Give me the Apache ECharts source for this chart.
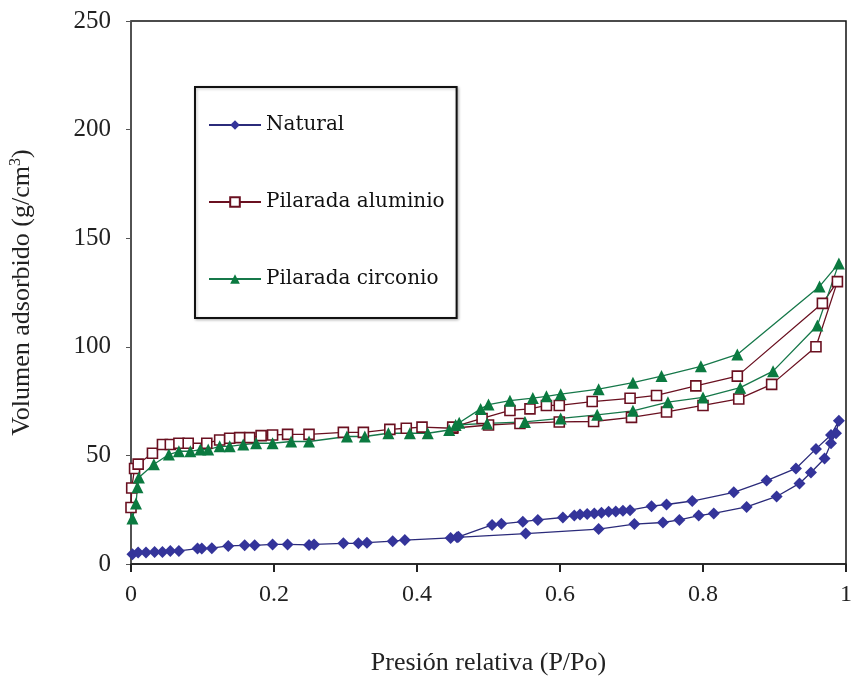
<!DOCTYPE html>
<html>
<head>
<meta charset="utf-8">
<script src="https://cdn.jsdelivr.net/npm/echarts@6/dist/echarts.min.js"></script>
<style>html,body{margin:0;padding:0;background:#fff}#c{width:855px;height:681px}</style>
</head>
<body>
<div id="c"></div>
<script>
const seriesNames = ['Natural', 'Pilarada aluminio', 'Pilarada circonio'];
const xTickLabels = ['0', '0.2', '0.4', '0.6', '0.8', '1'];
const yTickLabels = ['0', '50', '100', '150', '200', '250'];

// Natural: adsorption then desorption branch
const natAdsP = [0.002,0.01,0.021,0.033,0.044,0.055,0.067,0.093,0.099,0.113,0.136,0.159,0.173,0.198,0.219,0.249,0.256,0.297,0.318,0.33,0.366,0.383,0.447,0.456,0.552,0.654,0.704,0.744,0.767,0.794,0.815,0.861,0.903,0.935,0.951,0.97,0.979,0.986,0.99];
const natAdsV = [4.5,5.3,5.3,5.5,5.5,6,6,7.1,7.1,7.3,8.3,8.6,8.6,9,9,8.8,9,9.5,9.5,9.8,10.5,11,12,12.3,14,16.1,18.4,19.1,20.3,22.3,23.3,26.3,31.1,37.1,42.1,48.6,55.6,60.2,66];
const natDesP = [0.979,0.958,0.93,0.889,0.843,0.785,0.749,0.728,0.698,0.688,0.678,0.668,0.658,0.648,0.638,0.628,0.62,0.604,0.569,0.548,0.518,0.505,0.458];
const natDesV = [59.4,53,44,38.4,33,29,27.4,26.6,24.8,24.5,24.2,24,23.6,23.3,23,22.8,22.3,21.4,20.3,19.5,18.5,18,12.5];

// Pilarada aluminio
const aluAdsP = [0.000,0.001,0.005,0.01,0.03,0.044,0.055,0.067,0.08,0.106,0.124,0.138,0.152,0.166,0.182,0.198,0.219,0.249,0.297,0.325,0.362,0.385,0.407,0.45,0.5,0.544,0.599,0.647,0.70,0.749,0.8,0.85,0.896,0.958,0.988];
const aluAdsV = [26,35,44,46,51,55,55,55.6,55.6,55.6,57.1,57.9,58.2,58.2,59.1,59.4,59.7,59.7,60.6,60.6,62,62.5,63,62.5,64,64.7,65.4,65.6,67.5,70,73,76,82.7,100,130];
const aluDesP = [0.967,0.848,0.79,0.735,0.698,0.645,0.599,0.581,0.558,0.53,0.491,0.45];
const aluDesV = [120,86.5,82,77.6,76.3,74.8,73,73,71.4,70.7,67,63];

// Pilarada circonio
const zrAdsP = [0.002,0.007,0.009,0.011,0.032,0.053,0.067,0.083,0.097,0.108,0.124,0.138,0.157,0.175,0.198,0.224,0.249,0.302,0.327,0.36,0.39,0.415,0.445,0.454,0.498,0.551,0.601,0.652,0.702,0.751,0.8,0.852,0.898,0.96,0.99];
const zrAdsV = [21,27.8,35.3,39.8,45.9,50.4,51.9,51.9,52.7,52.7,54.2,54.2,55,55.6,55.6,56.4,56.4,58.7,58.7,60.2,60.2,60.2,61.7,64,64.7,65.4,67,68.7,70.5,74.5,76.7,81.2,88.8,109.8,138.4];
const zrDesP = [0.963,0.848,0.797,0.742,0.702,0.654,0.601,0.581,0.562,0.53,0.5,0.489,0.459];
const zrDesV = [127.8,96.5,91,86.5,83.5,80.5,78.2,77.2,76.4,75.2,73.4,71.4,65];

function loop(aP, aV, dP, dV) {
  const out = [];
  for (let i = 0; i < aP.length; i++) out.push([aP[i], aV[i]]);
  for (let i = 0; i < dP.length; i++) out.push([dP[i], dV[i]]);
  return out;
}

const serif = 'Liberation Serif';
const chart = echarts.init(document.getElementById('c'), null, {renderer: 'canvas'});
chart.setOption({
  backgroundColor: '#ffffff',
  animation: false,
  grid: {left: 129, right: 4, top: 21, bottom: 106, show: true, borderColor: '#111', borderWidth: 1.5, backgroundColor: 'transparent'},
  legend: {
    orient: 'vertical', left: 195, top: 87,
    padding: [28, 12, 29, 13],
    itemGap: 57, itemWidth: 52, itemHeight: 12,
    borderColor: '#111', borderWidth: 2, backgroundColor: '#fff',
    shadowColor: 'rgba(0,0,0,0.25)', shadowBlur: 3, shadowOffsetX: 1, shadowOffsetY: 1,
    textStyle: {fontFamily: 'DejaVu Serif', fontSize: 20, color: '#111'},
    data: seriesNames
  },
  xAxis: {
    type: 'value', min: 0, max: 1, interval: 0.2,
    name: 'Presión relativa (P/Po)', nameLocation: 'middle', nameGap: 86,
    nameTextStyle: {fontFamily: serif, fontSize: 26, color: '#222'},
    axisLine: {lineStyle: {color: '#222', width: 1.5}},
    axisTick: {show: true, length: 8, lineStyle: {color: '#222', width: 2}},
    axisLabel: {fontFamily: serif, fontSize: 24, color: '#222', margin: 19,
      formatter: (v) => xTickLabels[Math.round(v / 0.2)]},
    splitLine: {show: false}
  },
  yAxis: {
    type: 'value', min: 0, max: 250, interval: 50,
    name: 'Volumen adsorbido (g/cm{sup|3})', nameLocation: 'middle', nameGap: 95, nameRotate: 90,
    nameTextStyle: {fontFamily: serif, fontSize: 26, color: '#222',
      rich: {sup: {fontFamily: serif, fontSize: 16, color: '#222', verticalAlign: 'top', padding: [0,0,12,0]}}},
    axisLine: {show: true, lineStyle: {color: '#555', width: 1.5}},
    axisTick: {show: true, length: 5, lineStyle: {color: '#555'}},
    axisLabel: {fontFamily: serif, fontSize: 25, color: '#222', margin: 20,
      formatter: (v) => yTickLabels[Math.round(v / 50)]},
    splitLine: {show: false}
  },
  series: [
    {name: seriesNames[0], type: 'line', data: loop(natAdsP, natAdsV, natDesP, natDesV),
     symbol: 'diamond', symbolSize: 12, showAllSymbol: true,
     lineStyle: {color: '#2b2b7a', width: 1.3},
     itemStyle: {color: '#34349a', borderColor: '#34349a', borderWidth: 0}},
    {name: seriesNames[1], type: 'line', data: loop(aluAdsP, aluAdsV, aluDesP, aluDesV),
     symbol: 'rect', symbolSize: 10, showAllSymbol: true,
     lineStyle: {color: '#6a1020', width: 1.3},
     itemStyle: {color: '#ffffff', borderColor: '#6a1020', borderWidth: 1.6}},
    {name: seriesNames[2], type: 'line', data: loop(zrAdsP, zrAdsV, zrDesP, zrDesV),
     symbol: 'triangle', symbolSize: 12, showAllSymbol: true,
     lineStyle: {color: '#16784a', width: 1.3},
     itemStyle: {color: '#0b7a40', borderColor: '#0b7a40', borderWidth: 0}}
  ]
});
</script>
</body>
</html>
